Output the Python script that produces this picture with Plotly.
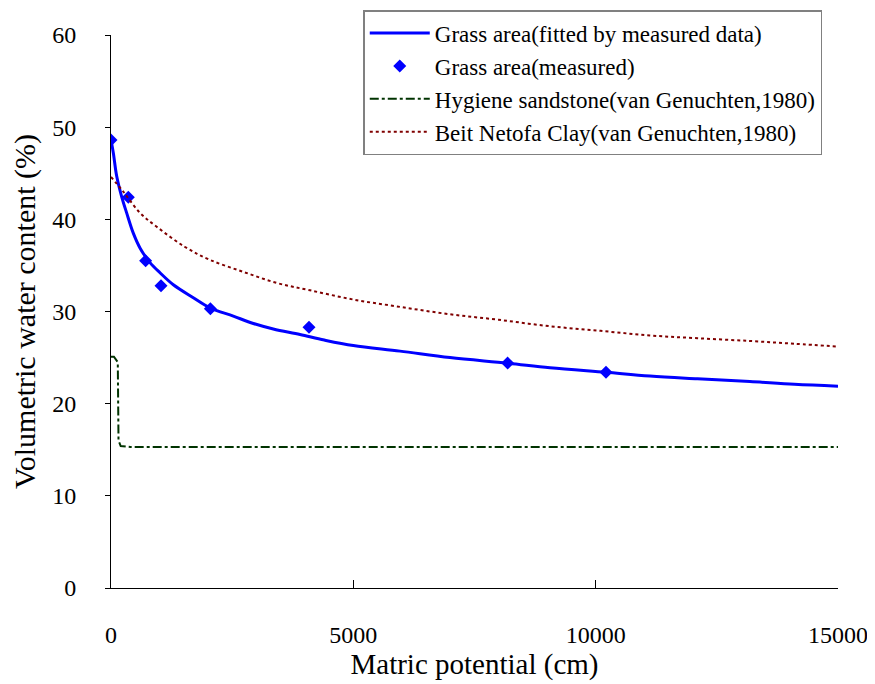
import plotly.graph_objects as go

# Measured grass area data
meas_x = [0, 357, 715, 1032, 2050, 4085, 8183, 10213]
meas_y = [48.6, 42.4, 35.5, 32.8, 30.3, 28.3, 24.4, 23.4]

# Fitted curve
fit_x = [0, 48, 117, 218, 323, 460, 598, 805, 1011, 1286, 1698, 2043, 2524, 2937,
         3349, 3900, 4400, 5000, 5962, 6995, 8183, 9057, 10213, 11120, 12100, 13183, 14100, 15000]
fit_y = [48.6, 47.2, 44.7, 42.5, 40.7, 38.5, 36.9, 35.3, 34.2, 32.9, 31.5, 30.4, 29.5, 28.7,
         28.1, 27.5, 26.9, 26.3, 25.7, 25.0, 24.4, 23.9, 23.4, 23.0, 22.7, 22.4, 22.1, 21.9]

# Hygiene sandstone (van Genuchten, 1980)
hyg_x = [0, 60, 140, 155, 200, 400, 15000]
hyg_y = [25.1, 25.1, 24.5, 16.0, 15.4, 15.3, 15.3]

# Beit Netofa Clay (van Genuchten, 1980)
bnc_x = [0, 254, 598, 942, 1527, 2043, 2730, 3418, 4106, 5000, 5962, 6994, 8000, 9057,
         10100, 11120, 12100, 13183, 14100, 15000]
bnc_y = [44.6, 43.0, 40.7, 39.2, 37.0, 35.6, 34.3, 33.1, 32.3, 31.3, 30.5, 29.7, 29.1, 28.4,
         27.9, 27.4, 27.1, 26.8, 26.5, 26.2]

font_family = "Liberation Serif, Times New Roman, serif"

fig = go.Figure()
fig.add_trace(go.Scatter(x=fit_x, y=fit_y, mode="lines", name="Grass area(fitted by measured data)",
                         line=dict(color="#0000FF", width=3, shape="spline")))
fig.add_trace(go.Scatter(x=meas_x, y=meas_y, mode="markers", name="Grass area(measured)",
                         marker=dict(symbol="diamond", color="#0000FF", size=10)))
fig.add_trace(go.Scatter(x=hyg_x, y=hyg_y, mode="lines", name="Hygiene sandstone(van Genuchten,1980)",
                         line=dict(color="#003300", width=2, dash="dashdot")))
fig.add_trace(go.Scatter(x=bnc_x, y=bnc_y, mode="lines", name="Beit Netofa Clay(van Genuchten,1980)",
                         line=dict(color="#800000", width=2, dash="dot", shape="spline")))

fig.update_layout(
    width=867, height=676,
    margin=dict(l=103, r=37, t=27, b=95.5, autoexpand=False),
    plot_bgcolor="white", paper_bgcolor="white",
    font=dict(family=font_family, color="black", size=24),
    showlegend=True,
    legend=dict(x=0.347, y=1.045, xanchor="left", yanchor="top",
                bgcolor="white", bordercolor="#808080", borderwidth=1.5,
                font=dict(size=23, family=font_family), tracegroupgap=0,
                itemwidth=60),
    xaxis=dict(range=[0, 15000], tickvals=[0, 5000, 10000, 15000],
               ticktext=["0", "5000", "10000", "15000"],
               showgrid=False, zeroline=False, showline=True, linecolor="black", linewidth=1,
               ticks="inside", ticklen=8, tickcolor="black",
               ticklabelstandoff=25, automargin=False,
               tickfont=dict(size=24, family=font_family),
               title=dict(text="Matric potential (cm)", font=dict(size=29, family=font_family), standoff=0)),
    yaxis=dict(range=[0, 60], tickvals=[0, 10, 20, 30, 40, 50, 60],
               showgrid=False, zeroline=False, showline=True, linecolor="black", linewidth=1,
               ticks="outside", ticklen=5, tickcolor="black",
               ticklabelstandoff=24, automargin=False,
               tickfont=dict(size=24, family=font_family),
               title=dict(text="Volumetric water content (%)", font=dict(size=30, family=font_family), standoff=10)),
)

fig.write_html("out.html")
